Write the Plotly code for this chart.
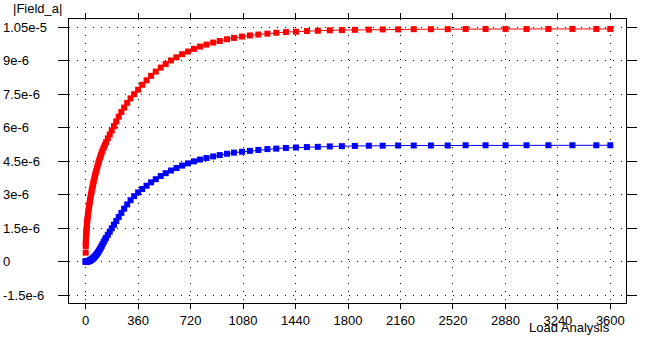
import plotly.graph_objects as go

# Load Analysis time values (s)
t = [0, 0.5, 1, 1.5, 2, 3, 4, 5, 6, 7.5,
     9, 10.5, 12, 14, 16, 18, 20, 22.5, 25, 27.5,
     30, 33, 36, 39, 42, 45.5, 49, 52.5, 56, 60,
     64, 68, 72, 77, 82, 87, 92, 98, 104, 110,
     116, 124, 132, 140, 152, 165, 179, 194, 210, 227,
     245, 264, 285, 308, 333, 360, 388, 418, 449, 481,
     515, 549, 585, 623, 662, 702, 743, 785, 829, 875,
     920, 970, 1018, 1073, 1127, 1185, 1247, 1308, 1374, 1443,
     1518, 1593, 1675, 1758, 1847, 1943, 2038, 2144, 2251, 2369,
     2484, 2607, 2744, 2881, 3025, 3175, 3340, 3504, 3600]

# |Field_a| values, in units of 1e-6
field_red = [0.40, 0.70, 0.83, 0.93, 1.01, 1.14, 1.26, 1.36, 1.45, 1.58,
             1.69, 1.79, 1.89, 2.01, 2.12, 2.22, 2.32, 2.44, 2.55, 2.65,
             2.76, 2.87, 2.98, 3.09, 3.19, 3.30, 3.41, 3.52, 3.62, 3.73,
             3.84, 3.95, 4.05, 4.17, 4.29, 4.41, 4.52, 4.65, 4.76, 4.88,
             4.98, 5.11, 5.23, 5.35, 5.52, 5.69, 5.87, 6.07, 6.28, 6.49,
             6.70, 6.90, 7.11, 7.31, 7.50, 7.70, 7.92, 8.12, 8.32, 8.51,
             8.69, 8.85, 9.01, 9.15, 9.29, 9.41, 9.53, 9.63, 9.72, 9.81,
             9.88, 9.96, 10.02, 10.08, 10.13, 10.17, 10.21, 10.25, 10.28, 10.30,
             10.33, 10.34, 10.36, 10.37, 10.38, 10.39, 10.40, 10.40, 10.41, 10.41,
             10.41, 10.42, 10.42, 10.42, 10.42, 10.42, 10.42, 10.42, 10.42]

field_blue = [0, 0, 0, 0, 0, 0.001, 0.001, 0.001, 0.002, 0.003,
              0.005, 0.006, 0.008, 0.011, 0.015, 0.019, 0.023, 0.029, 0.036, 0.044,
              0.052, 0.063, 0.075, 0.088, 0.102, 0.12, 0.139, 0.16, 0.182, 0.209,
              0.238, 0.268, 0.301, 0.344, 0.39, 0.439, 0.491, 0.557, 0.627, 0.70,
              0.78, 0.88, 0.98, 1.07, 1.20, 1.34, 1.49, 1.65, 1.82, 2.00,
              2.18, 2.37, 2.56, 2.75, 2.93, 3.10, 3.25, 3.40, 3.55, 3.69,
              3.83, 3.96, 4.08, 4.19, 4.30, 4.40, 4.49, 4.57, 4.64, 4.71,
              4.77, 4.83, 4.88, 4.92, 4.96, 5.00, 5.04, 5.06, 5.09, 5.11,
              5.13, 5.14, 5.16, 5.17, 5.18, 5.19, 5.19, 5.20, 5.20, 5.20,
              5.20, 5.21, 5.21, 5.21, 5.21, 5.21, 5.21, 5.21, 5.21]

x_tick_vals = [0, 360, 720, 1080, 1440, 1800, 2160, 2520, 2880, 3240, 3600]
y_tick_vals = [-1.5e-6, 0, 1.5e-6, 3e-6, 4.5e-6, 6e-6, 7.5e-6, 9e-6, 1.05e-5]
y_tick_text = ["-1.5e-6", "0", "1.5e-6", "3e-6", "4.5e-6", "6e-6", "7.5e-6", "9e-6", "1.05e-5"]

SCALE = 1e-6
red = [v * SCALE for v in field_red]
blue = [v * SCALE for v in field_blue]

FONT = "Liberation Sans, Arial, sans-serif"

fig = go.Figure()
fig.add_trace(go.Scatter(x=t, y=red, mode="lines+markers",
                         line=dict(color="#ff0000", width=1),
                         marker=dict(symbol="square", size=6, color="#ff0000"),
                         showlegend=False))
fig.add_trace(go.Scatter(x=t, y=blue, mode="lines+markers",
                         line=dict(color="#0000ff", width=1),
                         marker=dict(symbol="square", size=6, color="#0000ff"),
                         showlegend=False))

L, R, T, B = 69, 627, 19, 307
W, H = 649, 340
pw, ph = R - L, B - T

annotations = []
for v, s in zip(y_tick_vals, y_tick_text):
    annotations.append(dict(text=s, xref="paper", yref="y", x=(1 - L) / pw, y=v,
                            xanchor="left", yanchor="middle", showarrow=False,
                            font=dict(family=FONT, size=13, color="black")))
annotations.append(dict(text="|Field_a|", xref="paper", yref="paper",
                        x=(11 - L) / pw, y=(B - 8.5) / ph, xanchor="left", yanchor="middle",
                        showarrow=False, font=dict(family=FONT, size=13, color="black")))
annotations.append(dict(text="Load Analysis", xref="paper", yref="paper",
                        x=(612 - L) / pw, y=(B - 332) / ph, xanchor="right", yanchor="middle",
                        showarrow=False, borderpad=0,
                        font=dict(family=FONT, size=13, color="black")))

fig.update_layout(
    width=W, height=H,
    margin=dict(l=L, r=W - R, t=T, b=H - B, pad=0),
    plot_bgcolor="white", paper_bgcolor="white",
    font=dict(family=FONT, size=13, color="black"),
    annotations=annotations,
    xaxis=dict(range=[-114.4, 3707.5], tickvals=x_tick_vals, ticks="outside", ticklen=5,
               tickcolor="black", showline=True, linecolor="black", linewidth=1,
               mirror="ticks", showgrid=True, gridcolor="black", gridwidth=1,
               griddash="1px,7px", zeroline=False,
               tickfont=dict(family=FONT, size=13, color="black")),
    yaxis=dict(range=[-1.855e-6, 10.866e-6], tickvals=y_tick_vals, showticklabels=False,
               ticks="outside", ticklen=10, tickcolor="black", showline=True,
               linecolor="black", linewidth=1, mirror="ticks", showgrid=True,
               gridcolor="black", gridwidth=1, griddash="1px,7px", zeroline=False),
)

fig.write_html("out.html", config={"displayModeBar": False},
               post_script="document.body.style.margin='0px';document.body.style.overflow='hidden';")
